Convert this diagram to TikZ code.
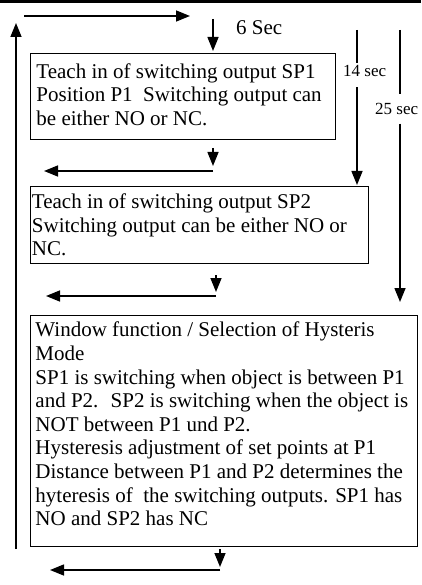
\documentclass[tikz,border=0pt]{standalone}
\usepackage{fontspec}
\setmainfont{Liberation Serif}
\usetikzlibrary{arrows.meta,positioning}

\begin{document}
\begin{tikzpicture}[x=1pt,y=-1pt,
  box/.style={draw,line width=0.9pt,anchor=north west,align=flush left,
              inner ysep=0pt,font=\fontsize{21}{23.6}\selectfont},
  arr/.style={-{Triangle[length=14pt,width=11pt]},line width=1.5pt},
  ln/.style={line width=1.5pt},
  lbl/.style={anchor=base west,inner xsep=0pt,text height=12pt,
              font=\fontsize{17}{20}\selectfont}
]
  \useasboundingbox (0,0) rectangle (421,585);
  \draw[line width=3.5pt] (0,1.75) -- (421,1.75);

  % ── Steps ─────────────────────────────────────────────────────────────
  \node[box,inner xsep=6pt,text width=293pt,minimum height=86pt] (sp1) at (30,53)
    {Teach in of switching output SP1\\Position P1~ Switching output can\\be either NO or NC.\rule[-4pt]{0pt}{4pt}};
  \node[box,inner xsep=1.5pt,text width=335pt,minimum height=77pt] (sp2) at (30,186)
    {Teach in of switching output SP2\\Switching output can be either NO or\\NC.};
  \node[box,inner xsep=5pt,text width=377pt,minimum height=231pt] (win) at (30,315)
    {Window function / Selection of Hysteris\\Mode\\SP1 is switching when object is between P1\\
     and P2.~ SP2 is switching when the object is\\NOT between P1 und P2.\\
     Hysteresis adjustment of set points at P1\\Distance between P1 and P2 determines the\\
     hyteresis of~ the switching outputs. SP1 has\\NO and SP2 has NC\rule[-14pt]{0pt}{14pt}};

  % ── Loop back to start ────────────────────────────────────────────────
  \coordinate (backb) at (16,549);  \coordinate (backt) at (16,23);
  \coordinate (topl)  at (24,16);   \coordinate (topr)  at (190,16);
  \draw[arr] (backb) -- (backt);
  \draw[arr] (topl) -- (topr);

  \coordinate (s6a) at (213,19);    \coordinate (s6b) at (213,51);
  \draw[arr] (s6a) -- (s6b);
  \node[lbl,font=\fontsize{21}{24}\selectfont] (s6) at (236,35) {6 Sec};

  % ── Hand-over arrows under each step ──────────────────────────────────
  \coordinate (d1a) at (213,148);   \coordinate (d1b) at (213,166);
  \coordinate (h1a) at (213,171);   \coordinate (h1b) at (44,171);
  \draw[arr] (d1a) -- (d1b); \draw[arr] (h1a) -- (h1b);

  \coordinate (d2a) at (216,275);   \coordinate (d2b) at (216,292);
  \coordinate (h2a) at (216,296);   \coordinate (h2b) at (46,296);
  \draw[arr] (d2a) -- (d2b); \draw[arr] (h2a) -- (h2b);

  \coordinate (d3a) at (220,549);   \coordinate (d3b) at (220,567);
  \coordinate (h3a) at (220,570);   \coordinate (h3b) at (50,570);
  \draw[arr] (d3a) -- (d3b); \draw[arr] (h3a) -- (h3b);

  % ── Timing marks ──────────────────────────────────────────────────────
  \node[lbl,text depth=8pt,inner ysep=2pt] (l14) at (343,77) {14 sec};
  \coordinate (t14a) at (357,30);   \coordinate (t14b) at (357,185);
  \draw[ln] (t14a) -- (t14a |- l14.north);
  \draw[arr] (t14a |- l14.south) -- (t14b);

  \node[lbl,text depth=0pt,inner ysep=8.5pt] (l25) at (375,115) {25 sec};
  \coordinate (t25a) at (400,30);   \coordinate (t25b) at (400,302);
  \draw[ln] (t25a) -- (t25a |- l25.north);
  \draw[arr] (t25a |- l25.south) -- (t25b);
\end{tikzpicture}
\end{document}
